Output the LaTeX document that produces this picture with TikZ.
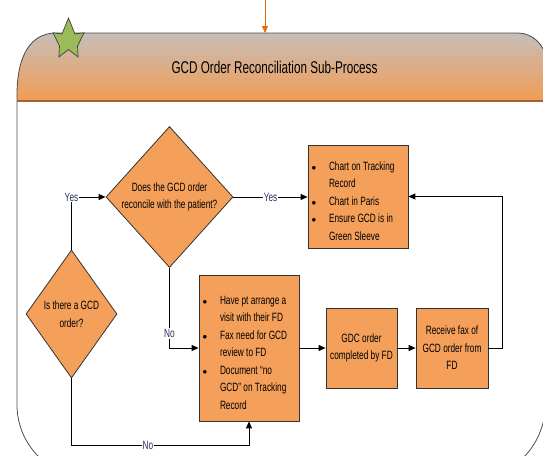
\documentclass[tikz,border=0pt]{standalone}
\usepackage{fontspec}
\usetikzlibrary{shapes.geometric,arrows.meta,calc}
\newfontfamily\narrowfont{Liberation Sans}[FakeStretch=0.69]
\definecolor{boxfill}{HTML}{F4A05A}
\definecolor{hdtop}{HTML}{C6BEB8}
\definecolor{hdbot}{HTML}{F29C54}
\definecolor{starfill}{HTML}{9BBB59}
\definecolor{lblblue}{HTML}{26305E}
\definecolor{inarrow}{HTML}{E46C0A}
\newcommand\bitem{\par\noindent\hangindent=19pt\hangafter=1\makebox[19pt][l]{\hspace{1.5pt}\small$\bullet$}}

\begin{document}
\begin{tikzpicture}
[x=1pt,y=-1pt]
\tikzset{act/.style={draw=black!80, fill=boxfill, line width=0.8pt, inner sep=0pt, font=\narrowfont\fontsize{12}{17.5}\selectfont, align=center}}
\tikzset{lst/.style={act, text width=96pt, inner xsep=2pt, align=flush left}}
\tikzset{decision/.style={diamond, draw=black!80, fill=boxfill, line width=0.8pt, inner sep=0pt}}
\tikzset{dtxt/.style={font=\narrowfont\fontsize{12}{17.5}\selectfont, align=center}}
\tikzset{lbl/.style={fill=white, text=lblblue, font=\narrowfont\fontsize{12}{14}\selectfont, inner sep=1pt}}
\tikzset{flow/.style={draw=black, line width=0.9pt, -{Triangle[length=7pt,width=6pt]}}}
\useasboundingbox (0,0) rectangle (543,455);
\clip (0,0) rectangle (543,455);
\begin{scope}
\clip (17,101) -- (17,95) .. controls (17,55) and (31,33) .. (56,33) -- (518,33) .. controls (533,33) and (546,46) .. (546,61) -- (546,101) -- cycle;
\foreach \i [evaluate=\i as \p using {100*\i/68}] in {0,...,68}
	\fill[hdbot!\p!hdtop] (0,33+\i) rectangle (550,34.5+\i);
\end{scope}
\draw[black!70, line width=0.8pt] (300,478) -- (90,478) .. controls (50,478) and (17,445) .. (17,405) -- (17,95) .. controls (17,55) and (31,33) .. (56,33) -- (518,33) .. controls (533,33) and (546,46) .. (546,61) -- (546,400) .. controls (546,440) and (520,478) .. (470,478) -- cycle;
\draw[draw=brown!80!black, line width=1.2pt] (17,101) -- (546,101);
\draw[fill=starfill, draw=black!75, line width=0.7pt] (68.5,18) -- (75.0,34.0) -- (84.0,32.8) -- (77.5,46.1) -- (78.1,57.0) -- (68.5,49.5) -- (58.9,57.0) -- (59.5,46.1) -- (53.0,32.8) -- (62.0,34.0) -- cycle;
\node[font=\narrowfont\fontsize{17}{20}\selectfont] (title) at (274.5,67) {GCD Order Reconciliation Sub-Process};
\coordinate (entry) at (265,0);
\coordinate (frametop) at (265,33);
\draw[flow, draw=inarrow, -{Triangle[length=7pt,width=6pt,fill=inarrow]}, line width=0.8pt] (entry) -- (frametop);

\node[decision, minimum width=127pt, minimum height=141pt, label={[dtxt]center:Does the GCD order\\reconcile with the patient?}] (q1) at (169.5,197) {};
\node[decision, minimum width=91pt, minimum height=128pt, label={[dtxt]center:Is there a GCD\\order?}] (q0) at (71.5,314) {};
\node[lst, minimum height=103pt] (act1) at (358,196.5) {\bitem Chart on Tracking\newline Record\bitem Chart in Paris\bitem Ensure GCD is in\newline Green Sleeve\par};
\node[lst, minimum height=146pt] (act0) at (249,348) {\bitem Have pt arrange a\newline visit with their FD\bitem Fax need for GCD\newline review to FD\bitem Document “no\newline GCD” on Tracking\newline Record\par};
\node[act, minimum width=71pt, minimum height=80pt] (act2) at (361.5,348) {GDC order\\completed by FD};
\node[act, minimum width=72pt, minimum height=80pt] (act3) at (452,348) {Receive fax of\\GCD order from\\FD};
\coordinate (low) at ($(act0.south)+(0,24)$);
\coordinate (back) at ($(act3.east)+(14,0)$);

\draw[flow] (q0.north) |- node[lbl,pos=0.5]{Yes} (q1.west);
\draw[flow] (q1.east) -- node[lbl]{Yes} (q1.east -| act1.west);
\draw[flow] (q1.south) |- node[lbl,pos=0.41]{No} (act0.west);
\draw[flow] (q0.south) |- node[lbl,pos=0.715]{No} (low) -- (act0.south);
\draw[flow] (act3.east) -- (back) |- (act1.east);
\foreach \from/\to in {act0/act2,act2/act3}
	\draw[flow] (\from) -- (\to);
\end{tikzpicture}
\end{document}
